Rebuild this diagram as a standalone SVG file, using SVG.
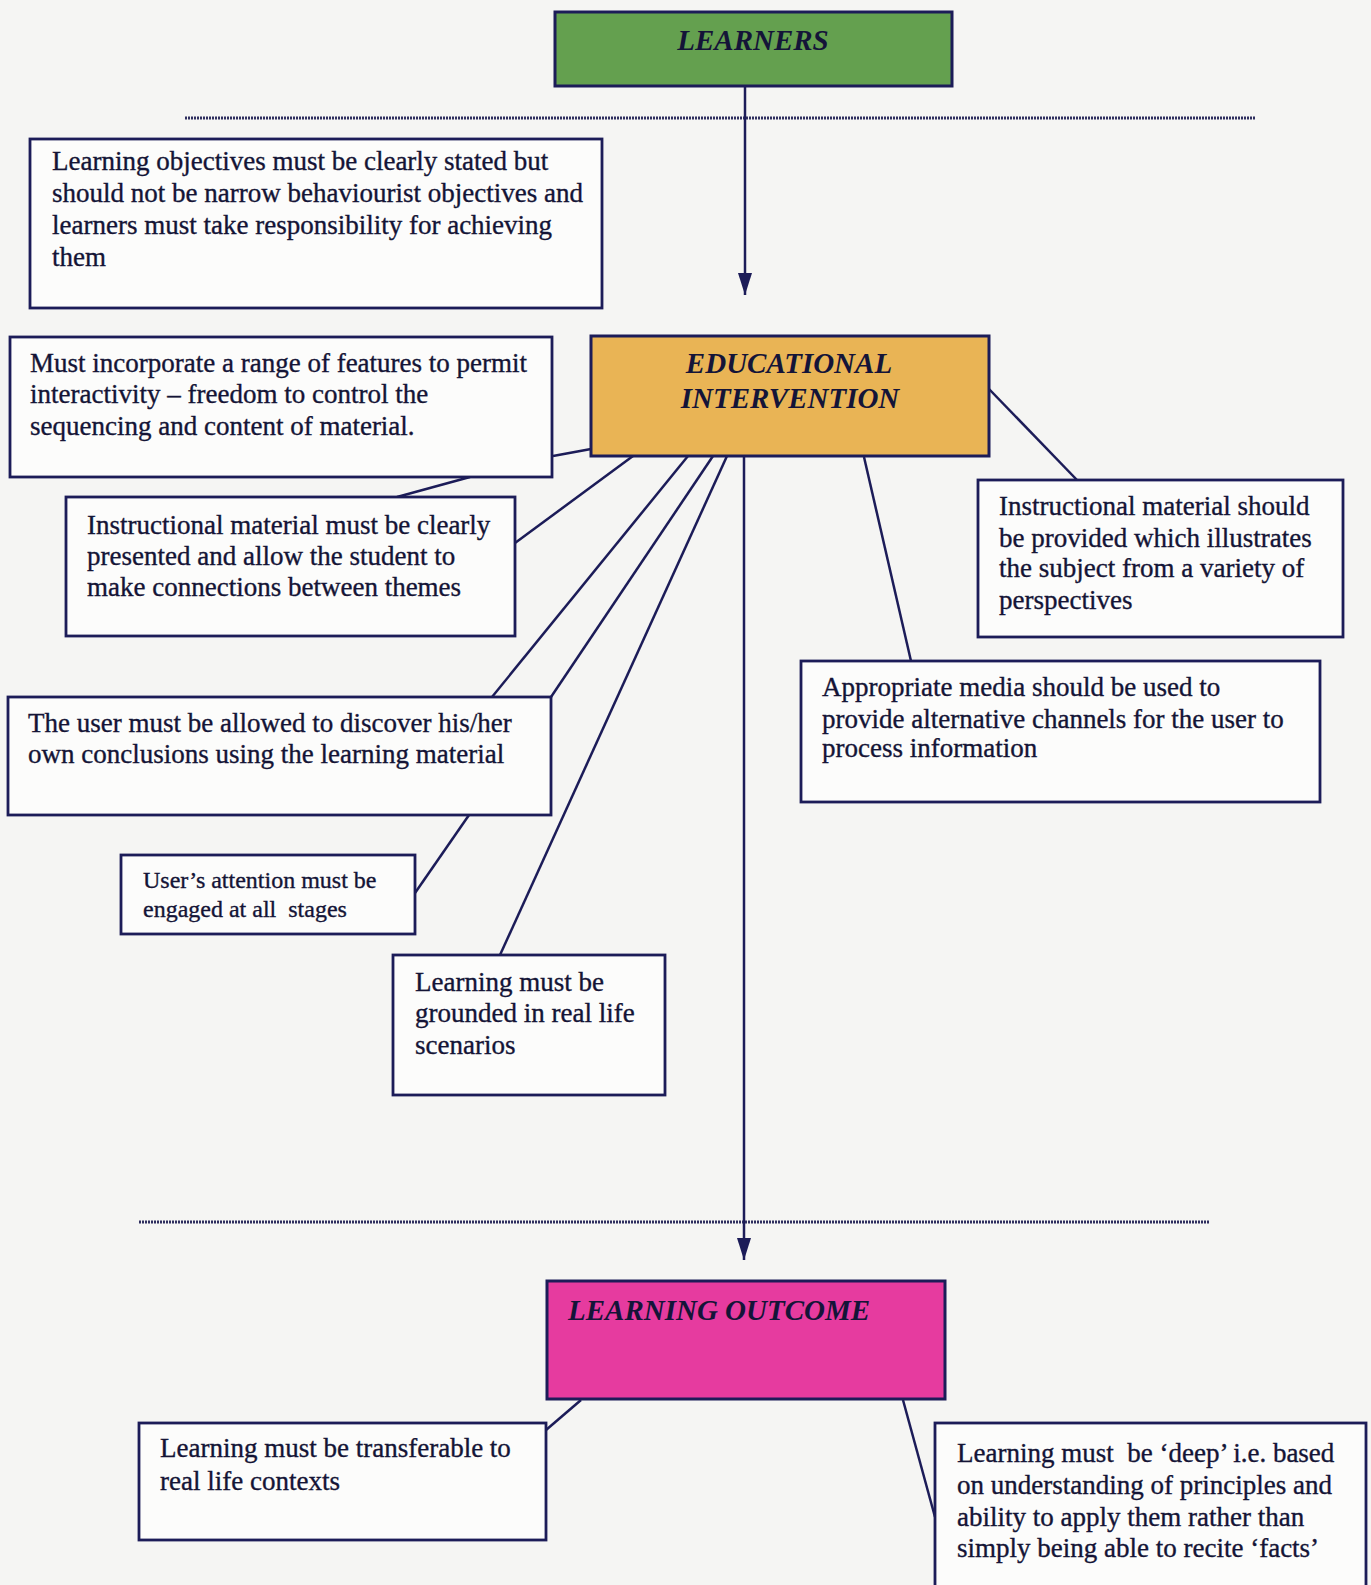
<svg xmlns="http://www.w3.org/2000/svg" width="1371" height="1585" viewBox="0 0 1371 1585">
<style>
.bg{fill:#f5f5f3}
.box{fill:#fcfcfb;stroke:#1c1c58;stroke-width:2.8}
.hdr{stroke:#1c1c58;stroke-width:3}
.t{font-family:"Liberation Serif","Times New Roman",serif;font-size:27px;fill:#141436;stroke:#141436;stroke-width:0.35;white-space:pre}
.ts{font-size:24px}
.h{font-family:"Liberation Serif","Times New Roman",serif;font-weight:bold;font-style:italic;font-size:29px;fill:#141438}
.ln{stroke:#1c1c58;stroke-width:2.5;fill:none}
.dot{stroke:#2e2e5e;stroke-width:3;stroke-dasharray:2 1;fill:none}
</style>
<defs>
<marker id="ah" viewBox="0 0 22 14" refX="22" refY="7" markerWidth="22" markerHeight="14" markerUnits="userSpaceOnUse" orient="auto">
<path d="M0,0 L22,7 L0,14 z" fill="#1c1c58"/>
</marker>
</defs>
<rect class="bg" x="0" y="0" width="1371" height="1585"/>
<g id="separators">
<line class="dot" x1="185" y1="118" x2="1255" y2="118"/>
<line class="dot" x1="139" y1="1222" x2="1210" y2="1222"/>
</g>
<g id="connectors">
<line class="ln" x1="745" y1="86" x2="745" y2="295" marker-end="url(#ah)"/>
<line class="ln" x1="744" y1="457" x2="744" y2="1260" marker-end="url(#ah)"/>
<line class="ln" x1="553" y1="456" x2="591" y2="449"/>
<line class="ln" x1="470" y1="477" x2="397" y2="497"/>
<line class="ln" x1="633" y1="456" x2="515" y2="543"/>
<line class="ln" x1="688" y1="456" x2="492" y2="697"/>
<line class="ln" x1="713" y1="456" x2="551" y2="697"/>
<line class="ln" x1="727" y1="456" x2="500" y2="955"/>
<line class="ln" x1="469" y1="815" x2="415" y2="893"/>
<line class="ln" x1="864" y1="457" x2="911" y2="661"/>
<line class="ln" x1="989" y1="389" x2="1077" y2="480"/>
<line class="ln" x1="581" y1="1400" x2="546" y2="1430"/>
<line class="ln" x1="903" y1="1400" x2="935" y2="1517"/>
</g>
<g id="learners">
<rect class="hdr" x="555" y="12" width="397" height="74" fill="#64a04f"/>
<text class="h" x="753" y="50" text-anchor="middle" font-size="30">LEARNERS</text>
</g>
<g id="educational-intervention">
<rect class="hdr" x="591" y="336" width="398" height="120" fill="#e9b455"/>
<text class="h" x="789" y="373" text-anchor="middle">EDUCATIONAL</text>
<text class="h" x="790" y="408" text-anchor="middle">INTERVENTION</text>
</g>
<g id="learning-outcome">
<rect class="hdr" x="547" y="1281" width="398" height="118" fill="#e63b9f"/>
<text class="h" x="568" y="1320">LEARNING OUTCOME</text>
</g>
<g id="objectives">
<rect class="box" x="30" y="139" width="572" height="169"/>
<text class="t" x="52" y="170">Learning objectives must be clearly stated but</text>
<text class="t" x="52" y="202">should not be narrow behaviourist objectives and</text>
<text class="t" x="52" y="234">learners must take responsibility for achieving</text>
<text class="t" x="52" y="266">them</text>
</g>
<g id="interactivity">
<rect class="box" x="10" y="337" width="542" height="140"/>
<text class="t" x="30" y="372">Must incorporate a range of features to permit</text>
<text class="t" x="30" y="403">interactivity – freedom to control the</text>
<text class="t" x="30" y="435">sequencing and content of material.</text>
</g>
<g id="clear-material">
<rect class="box" x="66" y="497" width="449" height="139"/>
<text class="t" x="87" y="534">Instructional material must be clearly</text>
<text class="t" x="87" y="565">presented and allow the student to</text>
<text class="t" x="87" y="596">make connections between themes</text>
</g>
<g id="discover">
<rect class="box" x="8" y="697" width="543" height="118"/>
<text class="t" x="28" y="732">The user must be allowed to discover his/her</text>
<text class="t" x="28" y="763">own conclusions using the learning material</text>
</g>
<g id="attention">
<rect class="box" x="121" y="855" width="294" height="79"/>
<text class="t ts" x="143" y="888">User’s attention must be</text>
<text class="t ts" x="143" y="917">engaged at all  stages</text>
</g>
<g id="grounded">
<rect class="box" x="393" y="955" width="272" height="140"/>
<text class="t" x="415" y="991">Learning must be</text>
<text class="t" x="415" y="1022">grounded in real life</text>
<text class="t" x="415" y="1054">scenarios</text>
</g>
<g id="perspectives">
<rect class="box" x="978" y="480" width="365" height="157"/>
<text class="t" x="999" y="515">Instructional material should</text>
<text class="t" x="999" y="547">be provided which illustrates</text>
<text class="t" x="999" y="577">the subject from a variety of</text>
<text class="t" x="999" y="609">perspectives</text>
</g>
<g id="media">
<rect class="box" x="801" y="661" width="519" height="141"/>
<text class="t" x="822" y="696">Appropriate media should be used to</text>
<text class="t" x="822" y="728">provide alternative channels for the user to</text>
<text class="t" x="822" y="757">process information</text>
</g>
<g id="transferable">
<rect class="box" x="139" y="1423" width="407" height="117"/>
<text class="t" x="160" y="1457">Learning must be transferable to</text>
<text class="t" x="160" y="1490">real life contexts</text>
</g>
<g id="deep">
<rect class="box" x="935" y="1423" width="431" height="165"/>
<text class="t" x="957" y="1462">Learning must  be ‘deep’ i.e. based</text>
<text class="t" x="957" y="1494">on understanding of principles and</text>
<text class="t" x="957" y="1526">ability to apply them rather than</text>
<text class="t" x="957" y="1557">simply being able to recite ‘facts’</text>
</g>
</svg>
